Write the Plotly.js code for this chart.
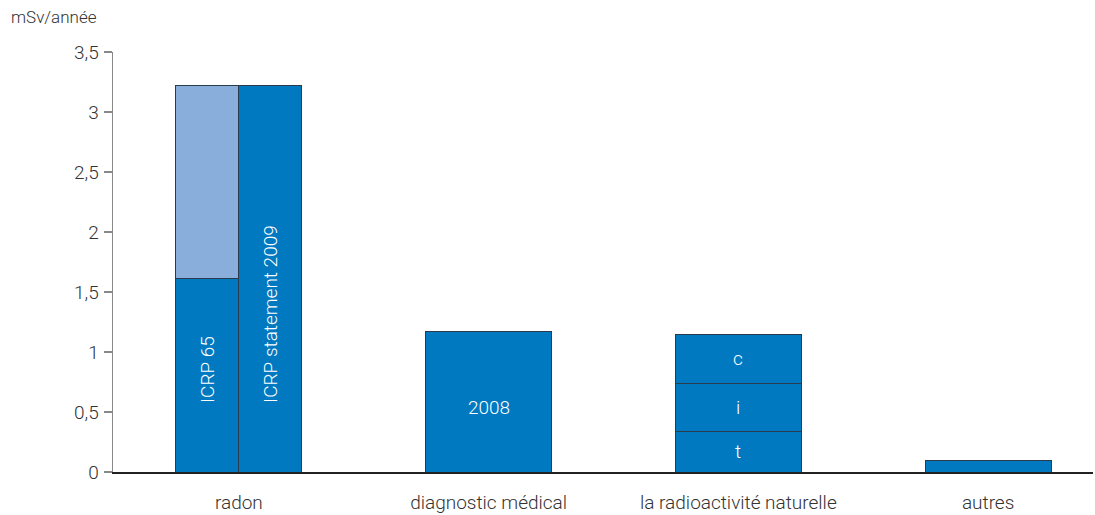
<!DOCTYPE html>
<html>
<head>
<meta charset="utf-8">
<script src="https://cdn.plot.ly/plotly-3.0.1.min.js"></script>
<style>html,body{margin:0;padding:0;background:#fff;}#chart{width:1095px;height:515px;}</style>
</head>
<body>
<div id="chart"></div>
<script>
// ---- data ----
var categories = ["radon", "diagnostic médical", "la radioactivité naturelle", "autres"];
var icrp65Base = 1.61;     // radon, ICRP 65 (dark part)
var icrp65Extra = 1.61;    // radon, ICRP 65 light top part
var icrp2009 = 3.22;       // radon, ICRP statement 2009
var diagnostic = 1.17;     // diagnostic médical 2008
var naturalParts = [0.34, 0.40, 0.41]; // t, i, c
var naturalLabels = ["t", "i", "c"];
var autres = 0.10;
var yTicks = [0, 0.5, 1, 1.5, 2, 2.5, 3, 3.5];
var yTickText = ["0", "0,5", "1", "1,5", "2", "2,5", "3", "3,5"];
var barLabels = {icrp65: "ICRP 65", icrp2009: "ICRP statement 2009", diag: "2008"};

// ---- style ----
var dark = "#0079C1", light = "#89AEDB", edge = "#2b3b4b";
var fullW = 0.504, halfW = 0.252;
var fontFam = "Roboto, 'Liberation Sans', Arial, sans-serif";
var line = {color: edge, width: 1};

var xR1 = 0 - halfW / 2, xR2 = 0 + halfW / 2;

var traces = [
  {type: "bar", x: [xR1, xR2, 1, 2, 3], y: [icrp65Base, icrp2009, diagnostic, naturalParts[0], autres],
   width: [halfW, halfW, fullW, fullW, fullW], marker: {color: dark, line: line}, hoverinfo: "y"},
  {type: "bar", x: [xR1], y: [icrp65Extra], width: [halfW], marker: {color: light, line: line}, hoverinfo: "y"},
  {type: "bar", x: [2], y: [naturalParts[1]], width: [fullW], marker: {color: dark, line: line}, hoverinfo: "y"},
  {type: "bar", x: [2], y: [naturalParts[2]], width: [fullW], marker: {color: dark, line: line}, hoverinfo: "y"}
];

var white = {family: fontFam, size: 19, color: "#ffffff", weight: 300};
var annotations = [
  {x: xR1, y: icrp65Base * 0.53, text: barLabels.icrp65, textangle: -90, showarrow: false, font: white, xref: "x", yref: "y"},
  {x: xR2, y: icrp2009 * 0.41, text: barLabels.icrp2009, textangle: -90, showarrow: false, font: white, xref: "x", yref: "y"},
  {x: 1, y: 0.54, text: barLabels.diag, showarrow: false, font: white, xref: "x", yref: "y"},
  {xref: "paper", xanchor: "left", x: -0.106, y: 1.083, yref: "paper", yanchor: "middle", text: "mSv/année", showarrow: false,
   font: {family: fontFam, size: 17, color: "#333", weight: 300}}
];
var cum = 0;
for (var i = 0; i < naturalParts.length; i++) {
  annotations.push({x: 2, y: cum + naturalParts[i] / 2, text: naturalLabels[i], showarrow: false, font: white, xref: "x", yref: "y"});
  cum += naturalParts[i];
}

var layout = {
  width: 1095, height: 515,
  margin: {l: 113, r: 2, t: 52, b: 43},
  barmode: "stack",
  showlegend: false,
  plot_bgcolor: "#fff", paper_bgcolor: "#fff",
  font: {family: fontFam, size: 19, color: "#333", weight: 300},
  xaxis: {
    range: [-0.504, 3.42], tickvals: [0, 1, 2, 3], ticktext: categories,
    showgrid: false, zeroline: false, showline: true, linecolor: "#222", linewidth: 1.5,
    ticks: "", ticklabelstandoff: 13, tickfont: {size: 19, color: "#333", weight: 300}
  },
  yaxis: {
    range: [0, 3.5], tickvals: yTicks, ticktext: yTickText,
    showgrid: false, zeroline: false, showline: true, linecolor: "#888", linewidth: 1.5,
    ticks: "outside", ticklen: 8, tickcolor: "#888", tickwidth: 1.2, ticklabelstandoff: 1,
    tickfont: {size: 19, color: "#333", weight: 300}
  },
  annotations: annotations
};

Plotly.newPlot("chart", traces, layout, {displayModeBar: false, staticPlot: true});
</script>
</body>
</html>
